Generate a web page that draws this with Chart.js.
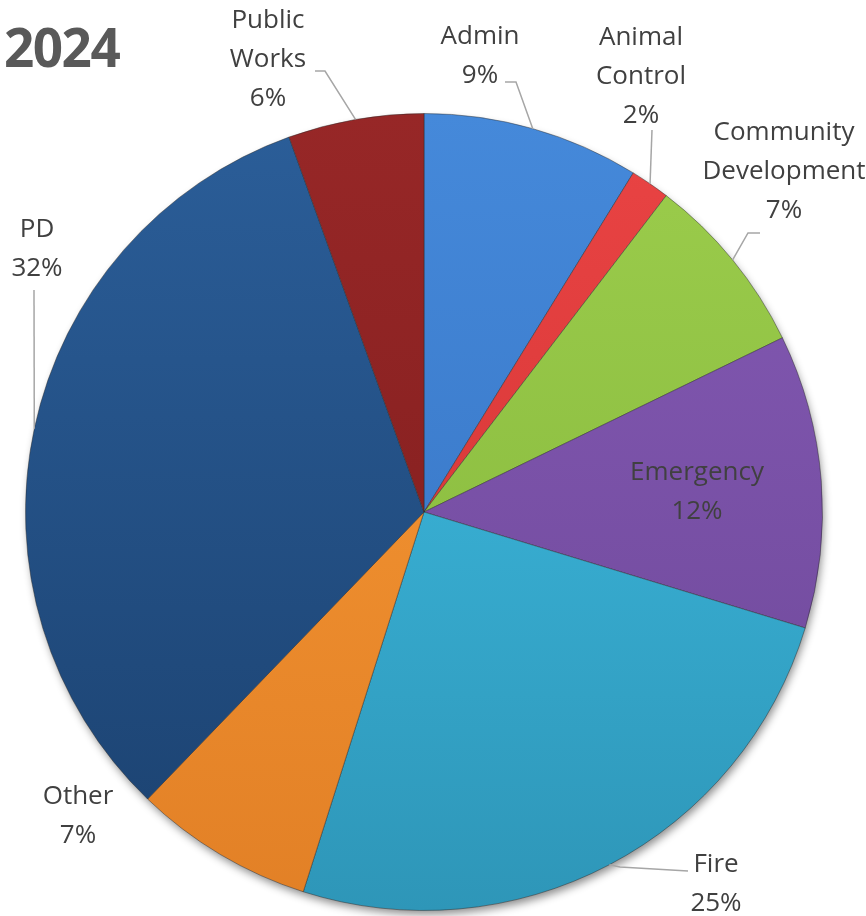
<!DOCTYPE html>
<html>
<head>
<meta charset="utf-8">
<script src="https://cdn.jsdelivr.net/npm/chart.js@4.4.1/dist/chart.umd.min.js"></script>
<style>
    html, body { margin: 0; padding: 0; background: #ffffff; }
    canvas { display: block; }
</style>
</head>
<body>
<canvas id="grafico-pizza" width="866" height="916"></canvas>
<script>
// DADOS DO GRÁFICO
const categorias = ['Admin', 'Animal Control', 'Community Development', 'Emergency', 'Fire', 'Other', 'PD', 'Public Works'];
const valores = [8.8, 1.6, 7.4, 11.9, 25.2, 7.3, 32.3, 5.5];
const titulo = '2024';

// CORES [topo, base]
const cores = [
    ['#4589da', '#3470bf'],
    ['#ea4444', '#cc3030'],
    ['#9ccd4c', '#82b43a'],
    ['#845ab5', '#6d4797'],
    ['#40c2e8', '#2e96b8'],
    ['#f99b36', '#e28026'],
    ['#2b5e99', '#1b416f'],
    ['#972727', '#7c1c1c']
];

// POSIÇÃO DOS RÓTULOS: [centro x, primeira linha y]
const posRotulos = [
    [480, 44],
    [641, 45],
    [784, 140],
    [697, 480],
    [716, 872],
    [78, 804],
    [37, 237],
    [268, 28]
];

// LINHAS GUIA: [cotovelo x, cotovelo y, fim x, fim y]
const guias = [
    [516, 82, 505, 82],
    [652, 130, 652, 130],
    [748, 233, 760, 233],
    null,
    [620, 867, 688, 871],
    null,
    [34, 290, 34, 290],
    [325, 71, 315, 71]
];

const gradientes = {};

function corFatia(context) {
    let chart = context.chart;
    let area = chart.chartArea;
    let i = context.dataIndex;
    if (!area) return cores[i][0];
    if (!gradientes[i]) {
        let g = chart.ctx.createLinearGradient(0, area.top, 0, area.bottom);
        g.addColorStop(0, cores[i][0]);
        g.addColorStop(1, cores[i][1]);
        gradientes[i] = g;
    }
    return gradientes[i];
}

// SOMBRA DA PIZZA
const pluginSombra = {
    id: 'sombra',
    beforeDatasetsDraw(chart) {
        let arc = chart.getDatasetMeta(0).data[0];
        if (!arc) return;
        let ctx = chart.ctx;
        ctx.save();
        ctx.shadowColor = 'rgba(0,0,0,0.45)';
        ctx.shadowBlur = 9;
        ctx.shadowOffsetX = 2;
        ctx.shadowOffsetY = 5;
        ctx.fillStyle = '#ffffff';
        ctx.beginPath();
        ctx.arc(arc.x, arc.y, arc.outerRadius - 1, 0, Math.PI * 2);
        ctx.fill();
        ctx.restore();
    }
};

// RÓTULOS E TÍTULO
const pluginRotulos = {
    id: 'rotulos',
    afterDatasetsDraw(chart) {
        let ctx = chart.ctx;
        let meta = chart.getDatasetMeta(0);
        let total = valores.reduce((a, b) => a + b, 0);
        ctx.save();

        meta.data.forEach((arc, i) => {
            let p = arc.getProps(['x', 'y', 'startAngle', 'endAngle', 'outerRadius'], true);
            let meio = (p.startAngle + p.endAngle) / 2;
            let ax = p.x + Math.cos(meio) * p.outerRadius;
            let ay = p.y + Math.sin(meio) * p.outerRadius;

            if (guias[i]) {
                ctx.strokeStyle = '#a6a6a6';
                ctx.lineWidth = 1.5;
                ctx.beginPath();
                ctx.moveTo(ax, ay);
                ctx.lineTo(guias[i][0], guias[i][1]);
                ctx.lineTo(guias[i][2], guias[i][3]);
                ctx.stroke();
            }

            let linhas = categorias[i].split(' ');
            linhas.push(Math.round(valores[i] / total * 100) + '%');
            ctx.fillStyle = '#404040';
            ctx.font = '26px "Open Sans"';
            ctx.textAlign = 'center';
            ctx.textBaseline = 'alphabetic';
            linhas.forEach((t, k) => {
                ctx.fillText(t, posRotulos[i][0], posRotulos[i][1] + k * 39);
            });
        });

        ctx.font = 'bold 53px "Open Sans"';
        ctx.letterSpacing = '-1.5px';
        ctx.textAlign = 'left';
        ctx.fillStyle = '#595959';
        ctx.fillText(titulo, 4, 67);
        ctx.restore();
    }
};

function gerarGraficoPizza() {
    let canva_pizza = document.getElementById('grafico-pizza');
    let ctx_pizza = canva_pizza.getContext('2d');

    let data = {
        labels: categorias,
        datasets: [{
            data: valores,
            backgroundColor: corFatia,
            borderColor: 'rgba(40,40,40,0.45)',
            borderWidth: 1,
            hoverOffset: 0
        }]
    };

    // RENDERIZAR GRÁFICO
    let grafico_pizza = new Chart(ctx_pizza, {
        type: 'pie',
        data: data,
        options: {
            responsive: false,
            animation: false,
            layout: {
                padding: { left: 25, right: 43, top: 113, bottom: 5 }
            },
            plugins: {
                legend: { display: false },
                tooltip: { enabled: false }
            }
        },
        plugins: [pluginSombra, pluginRotulos]
    });
}

gerarGraficoPizza();
</script>
</body>
</html>
